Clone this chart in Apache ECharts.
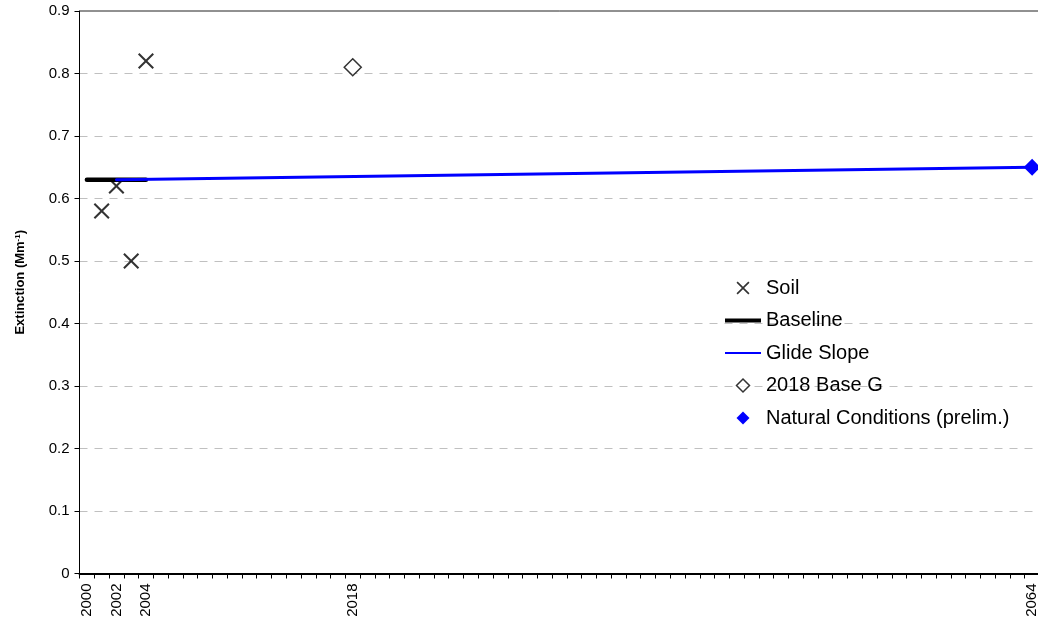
<!DOCTYPE html>
<html>
<head>
<meta charset="utf-8">
<script src="https://cdn.jsdelivr.net/npm/echarts@6/dist/echarts.min.js"></script>
<style>
html,body{margin:0;padding:0;background:#fff;}
#chart{width:1038px;height:626px;}
</style>
</head>
<body>
<div id="chart"></div>
<script>
// ---- data ----
var years = ['2000','2001','2002','2003','2004','2005','2006','2007','2008','2009',
  '2010','2011','2012','2013','2014','2015','2016','2017','2018','2019',
  '2020','2021','2022','2023','2024','2025','2026','2027','2028','2029',
  '2030','2031','2032','2033','2034','2035','2036','2037','2038','2039',
  '2040','2041','2042','2043','2044','2045','2046','2047','2048','2049',
  '2050','2051','2052','2053','2054','2055','2056','2057','2058','2059',
  '2060','2061','2062','2063','2064'];
var shownYearLabels = ['2000','2002','2004','2018','2064'];

var soilYears = ['2001','2002','2003','2004'];
var soilValues = [0.58, 0.62, 0.50, 0.82];

var baselineYears = ['2000','2001','2002','2003','2004'];
var baselineValues = [0.63, 0.63, 0.63, 0.63, 0.63];

var glideYears = ['2002','2064'];
var glideValues = [0.63, 0.65];

var base2018Years = ['2018'];
var base2018Values = [0.81];

var naturalYears = ['2064'];
var naturalValues = [0.65];

var yTicks = [0, 0.9, 0.1]; // min, max, interval

function pairs(xs, ys){ return xs.map(function(x,i){ return [x, ys[i]]; }); }

var FONT = "'Liberation Sans', Arial, sans-serif";
var X_PATH = 'path://M0,0.9L0.9,0L5,4.1L9.1,0L10,0.9L5.9,5L10,9.1L9.1,10L5,5.9L0.9,10L0,9.1L4.1,5Z';
var D_PATH = 'path://M5,0L10,5L5,10L0,5Z';

var chart = echarts.init(document.getElementById('chart'), null, {renderer:'canvas'});
chart.setOption({
  animation: false,
  backgroundColor: '#fff',
  grid: {
    left: 79.5, top: 11, width: 960, height: 562.5,
    outerBoundsMode: 'none',
    containLabel: false,
    show: true, borderColor: '#222', borderWidth: 1, backgroundColor: 'transparent'
  },
  legend: {
    orient: 'vertical',
    left: 725, top: 277,
    padding: 0,
    itemWidth: 36, itemHeight: 13,
    itemGap: 10.5,
    symbolKeepAspect: true,
    textStyle: {fontFamily: FONT, fontSize: 20, color: '#000', lineHeight: 22},
    data: [
      {name: 'Soil', icon: X_PATH, itemStyle: {color: '#000'}},
      {name: 'Baseline', icon: 'path://M0,0H36V4H0Z', itemStyle: {color: '#000'}},
      {name: 'Glide Slope', icon: 'path://M0,0H36V2H0Z', itemStyle: {color: '#0000ff'}},
      {name: '2018 Base G', icon: D_PATH, itemStyle: {color: '#fff', borderColor: '#000', borderWidth: 1.5}},
      {name: 'Natural Conditions (prelim.)', icon: D_PATH, itemStyle: {color: '#0000ff', borderWidth: 0}}
    ]
  },
  xAxis: {
    type: 'category',
    data: years,
    boundaryGap: true,
    axisLine: {lineStyle: {color: '#000', width: 2}},
    axisTick: {show: true, interval: 0, length: 5, lineStyle: {color: '#000', width: 1}},
    axisLabel: {
      interval: function(idx, val){ return shownYearLabels.indexOf(val) >= 0; },
      rotate: 90, margin: 10,
      fontFamily: FONT, fontSize: 15, color: '#000'
    },
    splitLine: {show: false}
  },
  yAxis: {
    type: 'value',
    min: yTicks[0], max: yTicks[1], interval: yTicks[2],
    name: '{a|Extinction (Mm}{s|-1}{a|)}',
    nameLocation: 'middle',
    nameGap: 53,
    nameRotate: 90,
    nameTextStyle: {
      padding: [0, 0, 0, 20],
      rich: {
        a: {fontFamily: FONT, fontSize: 13, fontWeight: 'bold', color: '#000'},
        s: {fontFamily: FONT, fontSize: 8, fontWeight: 'bold', color: '#000', verticalAlign: 'top'}
      }
    },
    axisLine: {show: true, lineStyle: {color: '#000', width: 1}},
    axisTick: {show: true, length: 5, lineStyle: {color: '#000'}},
    axisLabel: {margin: 10, fontFamily: FONT, fontSize: 15, color: '#000'},
    splitLine: {show: true, showMaxLine: false, lineStyle: {color: '#c0c0c0', type: [8, 7], width: 1}}
  },
  series: [
    {
      name: 'Soil', type: 'scatter',
      data: pairs(soilYears, soilValues),
      symbol: X_PATH, symbolSize: 16,
      itemStyle: {color: '#000'}
    },
    {
      name: 'Baseline', type: 'line',
      data: pairs(baselineYears, baselineValues),
      showSymbol: false, symbol: 'none',
      lineStyle: {color: '#000', width: 4.5, cap: 'round'},
      itemStyle: {color: '#000'}
    },
    {
      name: 'Glide Slope', type: 'line',
      data: pairs(glideYears, glideValues),
      showSymbol: false, symbol: 'none',
      lineStyle: {color: '#0000ff', width: 3, cap: 'round'},
      itemStyle: {color: '#0000ff'}
    },
    {
      name: '2018 Base G', type: 'scatter',
      data: pairs(base2018Years, base2018Values),
      symbol: 'diamond', symbolSize: 17,
      itemStyle: {color: '#fff', borderColor: '#000', borderWidth: 1.5}
    },
    {
      name: 'Natural Conditions (prelim.)', type: 'scatter',
      data: pairs(naturalYears, naturalValues),
      symbol: 'diamond', symbolSize: 17,
      itemStyle: {color: '#0000ff', opacity: 1},
      clip: false
    }
  ]
});
</script>
</body>
</html>
